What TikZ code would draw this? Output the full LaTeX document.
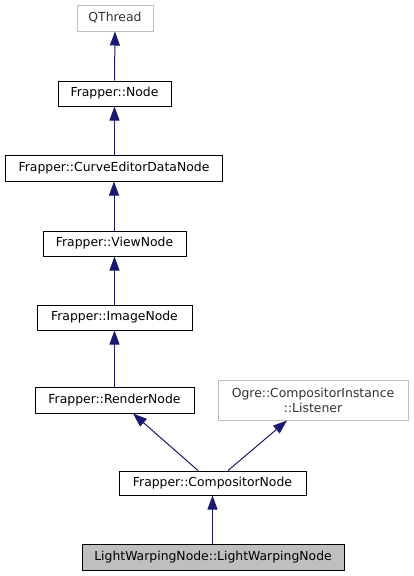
\documentclass[tikz,border=0pt]{standalone}
\usepackage{fontspec}
\setmainfont{DejaVu Sans}
\usetikzlibrary{arrows.meta}
\definecolor{edgeblue}{HTML}{191970}
\definecolor{greyline}{HTML}{BFBFBF}
\definecolor{greyfill}{HTML}{BFBFBF}
\begin{document}
\begin{tikzpicture}[x=1pt,y=-1pt,
  box/.style={draw=black,line width=1pt,fill=white,inner sep=0pt,font=\fontsize{12.4}{15}\selectfont,align=center},
  extbox/.style={box,draw=greyline,text=black!80},
  cur/.style={box,fill=greyfill},
  arr/.style={draw=edgeblue,line width=1pt,-{Triangle[length=14pt,width=10pt,fill=edgeblue]}}]
\useasboundingbox (0,0) rectangle (413,576);
\node[extbox,minimum width=76pt,minimum height=26pt] (qt) at (115,18) {QThread};
\node[box,minimum width=113pt,minimum height=25pt] (fn) at (114.5,93.5) {Frapper::Node};
\node[box,minimum width=217pt,minimum height=26pt] (ced) at (114,168) {Frapper::CurveEditorDataNode};
\node[box,minimum width=143pt,minimum height=25pt] (vn) at (114.5,243.5) {Frapper::ViewNode};
\node[box,minimum width=155pt,minimum height=25pt] (in) at (114.5,317.5) {Frapper::ImageNode};
\node[box,minimum width=159pt,minimum height=26pt] (rn) at (114.5,400) {Frapper::RenderNode};
\node[extbox,minimum width=190pt,minimum height=40pt] (og) at (313,400) {Ogre::CompositorInstance\\::Listener};
\node[box,minimum width=187pt,minimum height=24pt] (cn) at (212.5,483) {Frapper::CompositorNode};
\node[cur,minimum width=262pt,minimum height=26pt] (lw) at (213,557) {LightWarpingNode::LightWarpingNode};
\draw[arr] (fn.north) -- (qt.south);
\draw[arr] (ced.north -| fn.north) -- (fn.south);
\draw[arr] (vn.north -| ced.south) -- (ced.south);
\draw[arr] (in.north) -- (vn.south);
\draw[arr] (rn.north) -- (in.south);
\draw[arr] ([xshift=-14.5pt]cn.north) -- ([xshift=18.5pt]rn.south);
\draw[arr] ([xshift=15.5pt]cn.north) -- ([xshift=-26pt]og.south);
\draw[arr] (lw.north -| cn.north) -- (cn.south);
\end{tikzpicture}
\end{document}
